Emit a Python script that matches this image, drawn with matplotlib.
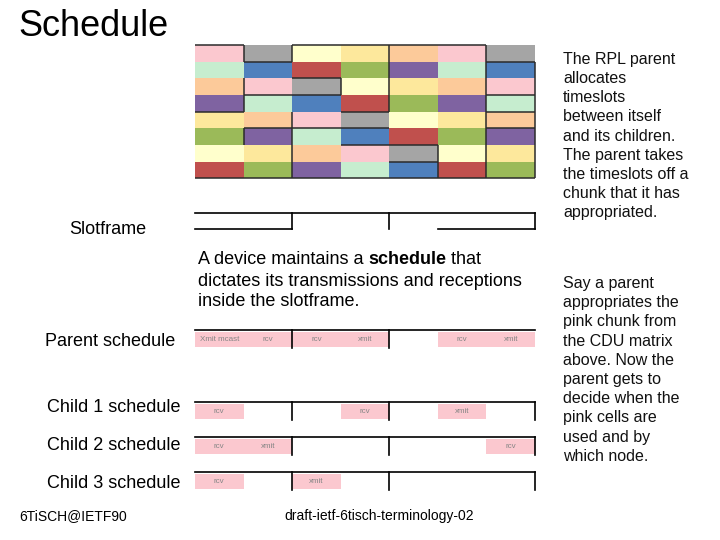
import matplotlib
matplotlib.use("Agg")
import matplotlib.pyplot as plt

plt.rcParams['font.family'] = ['Liberation Sans', 'DejaVu Sans']

W, H = 720, 540

# ---------------- data ----------------
palette = {
    'pink': '#FBC8CF', 'gray': '#A5A5A5', 'lyellow': '#FFFFCC',
    'yellow': '#FDE89C', 'peach': '#FCCA9A', 'mint': '#C6EDCF',
    'blue': '#4F80BD', 'red': '#C0504D', 'green': '#9BBA59',
    'purple': '#7F63A1',
}
grid_rows = [
    ['pink', 'gray', 'lyellow', 'yellow', 'peach', 'pink', 'gray'],
    ['mint', 'blue', 'red', 'green', 'purple', 'mint', 'blue'],
    ['peach', 'pink', 'gray', 'lyellow', 'yellow', 'peach', 'pink'],
    ['purple', 'mint', 'blue', 'red', 'green', 'purple', 'mint'],
    ['yellow', 'peach', 'pink', 'gray', 'lyellow', 'yellow', 'peach'],
    ['green', 'purple', 'mint', 'blue', 'red', 'green', 'purple'],
    ['lyellow', 'yellow', 'peach', 'pink', 'gray', 'lyellow', 'yellow'],
    ['red', 'green', 'purple', 'mint', 'blue', 'red', 'green'],
]
# chunk outline segments on the grid: (row_boundary, col_start, col_end) / (col_boundary, row_start, row_end)
grid_hlines = [(0, 0, 1), (0, 2, 6), (1, 1, 2), (1, 6, 7), (2, 2, 3), (3, 1, 3),
               (3, 6, 7), (4, 0, 1), (4, 3, 4), (4, 6, 7), (5, 1, 3), (5, 3, 4),
               (5, 6, 7), (6, 3, 5), (7, 4, 5), (8, 0, 7)]
grid_vlines = [(1, 0, 1), (1, 2, 4), (1, 5, 6), (2, 0, 1), (2, 4, 8), (3, 2, 3),
               (4, 0, 4), (5, 6, 8), (6, 0, 8), (7, 1, 8)]

n_slots = 7
slotframe_bounds = [2, 4, 7]

schedule_names = ['Parent schedule', 'Child 1 schedule', 'Child 2 schedule', 'Child 3 schedule']
schedules = [
    {0: 'Xmit mcast', 1: 'rcv', 2: 'rcv', 3: 'xmit', 5: 'rcv', 6: 'xmit'},
    {0: 'rcv', 3: 'rcv', 5: 'xmit'},
    {0: 'rcv', 1: 'xmit', 6: 'rcv'},
    {0: 'rcv', 2: 'xmit'},
]

title = 'Schedule'
body_lines = [['A device maintains a ', ('schedule', 'bold'), ' that'],
              ['dictates its transmissions and receptions'],
              ['inside the slotframe.']]
right_block1 = ['The RPL parent', 'allocates', 'timeslots', 'between itself',
                'and its children.', 'The parent takes', 'the timeslots off a',
                'chunk that it has', 'appropriated.']
right_block2 = ['Say a parent', 'appropriates the', 'pink chunk from', 'the CDU matrix',
                'above. Now the', 'parent gets to', 'decide when the', 'pink cells are',
                'used and by', 'which node.']
footer_left = '6TiSCH@IETF90'
footer_mid = 'draft-ietf-6tisch-terminology-02'

# ---------------- figure ----------------
fig = plt.figure(figsize=(W / 100, H / 100), dpi=100)
ax = fig.add_axes([0, 0, 1, 1])
ax.set_xlim(0, W)
ax.set_ylim(H, 0)
ax.axis('off')


def sub_axes(x0, y0, x1, y1):
    a = fig.add_axes([x0 / W, 1 - y1 / H, (x1 - x0) / W, (y1 - y0) / H])
    a.axis('off')
    return a


# CDU matrix grid
gax = sub_axes(195, 45, 535, 178.5)
gax.set_xlim(0, n_slots)
gax.set_ylim(len(grid_rows), 0)
for r, row in enumerate(grid_rows):
    gax.bar(range(len(row)), 1, bottom=r, width=1, align='edge',
            color=[palette[c] for c in row], edgecolor='none')
for (rb, c0, c1) in grid_hlines:
    gax.plot([c0, c1], [rb, rb], color='#2b2b2b', lw=1.1, clip_on=False, solid_capstyle='butt')
for (cb, r0, r1) in grid_vlines:
    gax.plot([cb, cb], [r0, r1], color='#2b2b2b', lw=1.1, clip_on=False, solid_capstyle='butt')

# Slotframe
sax = sub_axes(195, 213, 535, 229)
sax.set_xlim(0, n_slots)
sax.set_ylim(1, 0)
sax.plot([0, n_slots], [0, 0], color='black', lw=1.2, clip_on=False)
for b in slotframe_bounds:
    sax.plot([b, b], [0, 1], color='black', lw=1.2, clip_on=False)
sax.plot([0, 2], [1, 1], color='black', lw=1.2, clip_on=False)
sax.plot([5, 7], [1, 1], color='black', lw=1.2, clip_on=False)

# Schedules
row_tops = [330, 402, 437, 472]
for i, (sched, top) in enumerate(zip(schedules, row_tops)):
    a = sub_axes(195, top, 535, top + 17)
    a.set_xlim(0, n_slots)
    a.set_ylim(1, 0)
    slots = list(sched.keys())
    a.bar(slots, 0.9, bottom=0.1, width=1, align='edge', color=palette['pink'], edgecolor='none')
    for s, lab in sched.items():
        a.text(s + 0.5, 0.55, lab, ha='center', va='center', fontsize=5.8, color='#858585')
    a.plot([0, n_slots], [0, 0], color='black', lw=1.2, clip_on=False)
    bounds = slotframe_bounds if i > 0 else slotframe_bounds[:-1]
    for b in bounds:
        a.plot([b, b], [0, 1.05], color='black', lw=1.2, clip_on=False)

# Texts
ax.text(18, 26, title, fontsize=26, ha='left', va='center', color='black')
ax.text(69, 229, 'Slotframe', fontsize=13, ha='left', va='center')
for name, y in zip(schedule_names, [342, 408, 446, 484]):
    ax.text(45 if name.startswith('Parent') else 47, y, name, fontsize=13, ha='left', va='center')

renderer = fig.canvas.get_renderer()
inv = ax.transData.inverted()
for line, y in zip(body_lines, [259, 281, 302]):
    x = 198
    for part in line:
        if isinstance(part, tuple):
            txt, w = part
        else:
            txt, w = part, 'normal'
        t = ax.text(x, y, txt, fontsize=13, fontweight=w, ha='left', va='center')
        bb = t.get_window_extent(renderer)
        x = inv.transform((bb.x1, bb.y0))[0]

for i, l in enumerate(right_block1):
    ax.text(563, 59.5 + i * 19.15, l, fontsize=11.5, ha='left', va='center', color='#111111')
for i, l in enumerate(right_block2):
    ax.text(563, 283.5 + i * 19.2, l, fontsize=11.5, ha='left', va='center', color='#111111')

ax.text(19, 516, footer_left, fontsize=10, ha='left', va='center')
ax.text(284, 516, footer_mid, fontsize=10, ha='left', va='center')

fig.savefig('out.png', dpi=100)
